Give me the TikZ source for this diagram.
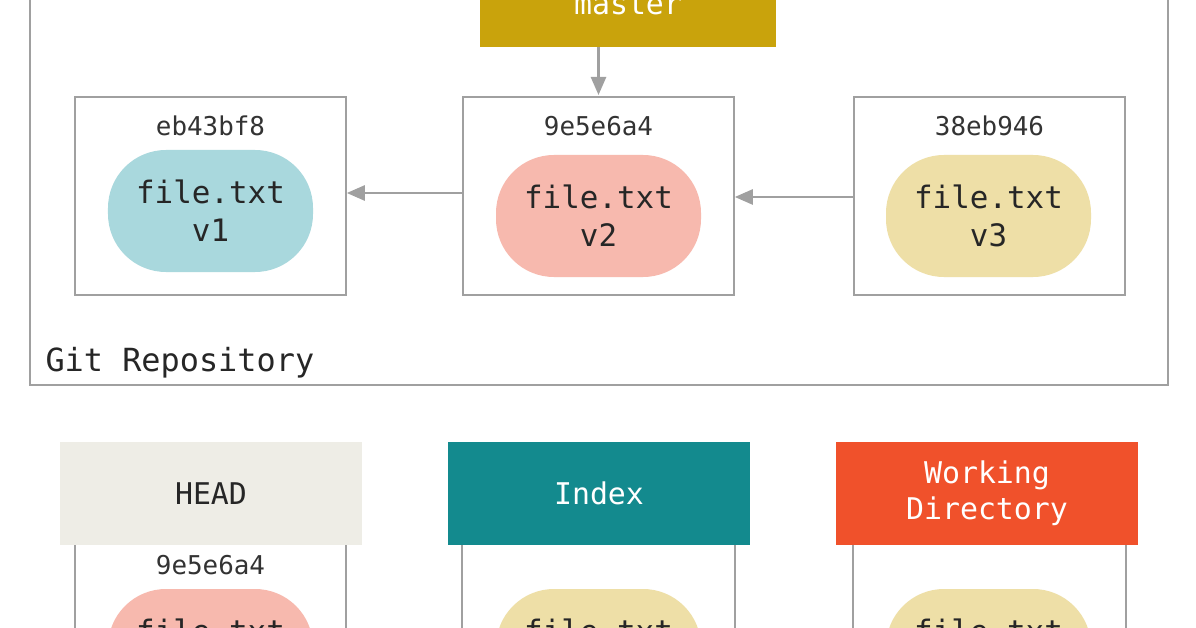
\documentclass[tikz,border=0pt]{standalone}
\usepackage{fontspec}
\setmonofont{DejaVu Sans Mono}
\usepackage{tikz}
\usetikzlibrary{arrows.meta,shapes}
\definecolor{framegray}{HTML}{A0A0A0}
\definecolor{branchgold}{HTML}{C9A30C}
\definecolor{blobblue}{HTML}{A9D8DD}
\definecolor{blobpink}{HTML}{F7B9AE}
\definecolor{blobtan}{HTML}{EEDFA7}
\definecolor{headgray}{HTML}{EEEDE6}
\definecolor{indexteal}{HTML}{138A8E}
\definecolor{workred}{HTML}{F0512B}
\begin{document}
\begin{tikzpicture}[x=1bp,y=-1bp,>={Triangle[length=18bp,width=15bp]},
  frame/.style={draw=framegray,line width=1.6bp},
  commit/.style={frame,minimum width=271bp,minimum height=198bp},
  hashtext/.style={font=\fontsize{26}{28}\selectfont\ttfamily,text=black!80},
  blob/.style={rectangle,rounded corners=58bp,minimum width=205bp,minimum height=122bp,align=center,
               font=\fontsize{31}{38}\selectfont\ttfamily,text=black!85},
  label/.style={minimum width=302bp,minimum height=103bp,align=center,
                font=\fontsize{30}{36}\selectfont\ttfamily},
  link/.style={->,draw=framegray,line width=2.5bp},
  ]
\useasboundingbox (0,0) rectangle (1196,628);
\clip (0,0) rectangle (1196,628);
\fill[white] (0,0) rectangle (1196,628);
%% repository
\draw[frame] (30,-20) rectangle (1168,385);
\node[anchor=west,font=\fontsize{32}{36}\selectfont\ttfamily,text=black!85] (repo) at (42,363) {Git Repository};
\node (master) at (628,4) [fill=branchgold,minimum width=296bp,minimum height=86bp,
  font=\fontsize{30}{36}\selectfont\ttfamily,text=white] {master};
%% commits
\node (c1) at (210.5,196) [commit] {};
\node (c2) at (598.5,196) [commit] {};
\node (c3) at (989.5,196) [commit] {};
\node (h1) at (210.5,126) [hashtext] {eb43bf8};
\node (h2) at (598.5,126) [hashtext] {9e5e6a4};
\node (h3) at (989.5,126) [hashtext] {38eb946};
\node (b1) at (210.5,211) [blob,fill=blobblue] {file.txt\\v1};
\node (b2) at (598.5,216) [blob,fill=blobpink] {file.txt\\v2};
\node (b3) at (988.5,216) [blob,fill=blobtan] {file.txt\\v3};
\coordinate (m1) at (598.5,47);
\coordinate (m2) at (598.5,95);
\draw[link] (m1) -- (m2);
\draw[link] (c2.west |- 0,193) -- (c1.east |- 0,193);
\draw[link] (c3.west |- 0,197) -- (c2.east |- 0,197);
%% trees
\node (head) at (211,493.5) [label,fill=headgray,text=black!85] {HEAD};
\node (index) at (599,493.5) [label,fill=indexteal,text=white] {Index};
\node (work) at (987,493.5) [label,fill=workred,text=white] {Working\\Directory};
\draw[frame] (75,545) -- (75,640) (346,545) -- (346,640);
\draw[frame] (462,545) -- (462,640) (735,545) -- (735,640);
\draw[frame] (853,545) -- (853,640) (1126,545) -- (1126,640);
\node (h4) at (210.5,565) [hashtext] {9e5e6a4};
\node (b4) at (210.5,650) [blob,fill=blobpink] {file.txt\\v2};
\node (b5) at (598.5,650) [blob,fill=blobtan] {file.txt\\v3};
\node (b6) at (988.5,650) [blob,fill=blobtan] {file.txt\\v3};
\end{tikzpicture}
\end{document}
